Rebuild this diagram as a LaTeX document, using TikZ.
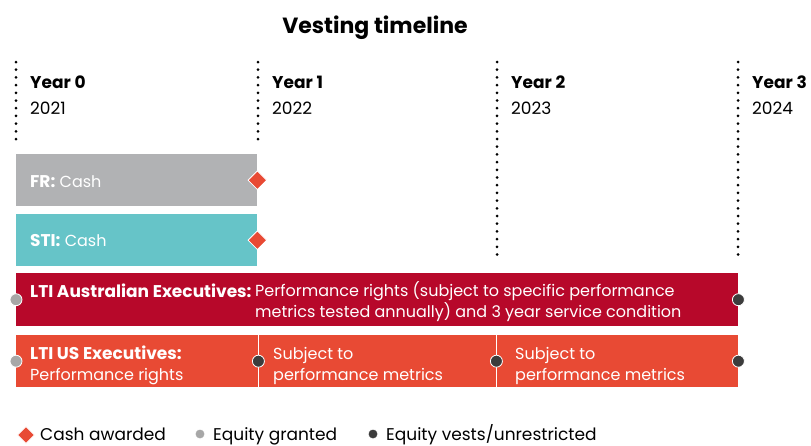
\documentclass[tikz,border=0pt]{standalone}
\usepackage{fontspec}
\setmainfont{Poppins}
\usetikzlibrary{positioning,shapes.geometric}
\definecolor{frGray}{HTML}{B1B2B4}
\definecolor{stiTeal}{HTML}{66C4C8}
\definecolor{ausRed}{HTML}{B7082A}
\definecolor{usRed}{HTML}{E84A34}
\definecolor{dotGray}{HTML}{A7A7A7}
\definecolor{dotDark}{HTML}{3C3C3C}
\tikzset{
	barA/.style={
		fill=#1, draw=none, inner sep=0pt, anchor=north west,
		minimum height=52pt
	},
	dotA/.style={
		circle, fill=#1, draw=white, line width=0.8pt, inner sep=0pt,
		minimum size=12pt
	},
	gemA/.style={
		diamond, fill=usRed, draw=white, line width=0.8pt, inner sep=0pt,
		minimum size=19pt
	},
	txtA/.style={
		anchor=base west, inner sep=0pt, align=left,
		font={\fontsize{16}{21}\selectfont}
	},
	boldA/.style={
		txtA, font={\fontsize{17}{21}\selectfont\bfseries}
	},
	keyA/.style={
		txtA, font={\fontsize{17}{21}\selectfont}
	},
	vline/.style={
		line width=3pt, line cap=round, dash pattern=on 0pt off 7.7pt
	},
}
\newcommand{\lbl}[1]{{\fontsize{17}{21}\selectfont\bfseries #1}}

\begin{document}
\begin{tikzpicture}[x=1pt, y=-1pt]
\useasboundingbox (0,0) rectangle (811,445);
\node[boldA, font={\fontsize{22}{24}\selectfont\bfseries}, anchor=base] (title) at (375,33) {Vesting timeline};
% year markers
\foreach \x/\n/\yr/\e in {16/0/2021/143, 258/1/2022/143, 497/2/2023/260, 738/3/2024/260}{
	\draw[vline] (\x,62) -- (\x,\e);
	\node[boldA] (yr\n) at (\x+14,88) {Year \n};
	\node[keyA] (yd\n) at (\x+14,114) {\yr};
}
% bars
\node[barA=frGray, minimum width=241pt] (fr) at (16,154) {};
\node[barA=stiTeal, minimum width=241pt] (sti) at (16,214) {};
\node[barA=ausRed, minimum width=722pt, minimum height=53pt] (aus) at (16,273) {};
\node[barA=usRed, minimum width=242pt] (us1) at (16,335) {};
\node[barA=usRed, minimum width=238pt] (us2) at (258,335) {};
\node[barA=usRed, minimum width=242pt] (us3) at (496,335) {};
\draw[white, line width=1pt] (us1.north east) -- (us1.south east);
\draw[white, line width=1pt] (us2.north east) -- (us2.south east);
% bar texts (base = last line)
\node[txtA, text=white] (frT) at (30,187) {\lbl{FR:} Cash};
\node[txtA, text=white] (stiT) at (30,246) {\lbl{STI:} Cash};
\node[boldA, text=white] (ausL) at (30,297) {LTI Australian Executives:};
\node[txtA, text=white] (ausT) at (255,317) {Performance rights (subject to specific performance\\metrics tested annually) and 3 year service condition};
\node[txtA, text=white] (usT) at (30,380) {\lbl{LTI US Executives:}\\Performance rights};
\node[txtA, text=white] (us2T) at (273,380) {Subject to\\performance metrics};
\node[txtA, text=white] (us3T) at (515,380) {Subject to\\performance metrics};
% markers
\node[gemA] at (fr.east) {};
\node[gemA] at (sti.east) {};
\node[dotA=dotGray] at (aus.west) {};
\node[dotA=dotDark] at (aus.east) {};
\node[dotA=dotGray] at (us1.west) {};
\node[dotA=dotDark] at (us1.east) {};
\node[dotA=dotDark] at (us2.east) {};
\node[dotA=dotDark] at (us3.east) {};
% legend
\node[gemA, minimum size=17pt] (kCash) at (26,435) {};
\node[keyA] (kCashT) at (40,440) {Cash awarded};
\node[dotA=dotGray, minimum size=10pt] (kGrant) at (200,434) {};
\node[keyA] (kGrantT) at (213,440) {Equity granted};
\node[dotA=dotDark, minimum size=10pt] (kVest) at (373,434) {};
\node[keyA] (kVestT) at (386,440) {Equity vests/unrestricted};
\end{tikzpicture}
\end{document}
